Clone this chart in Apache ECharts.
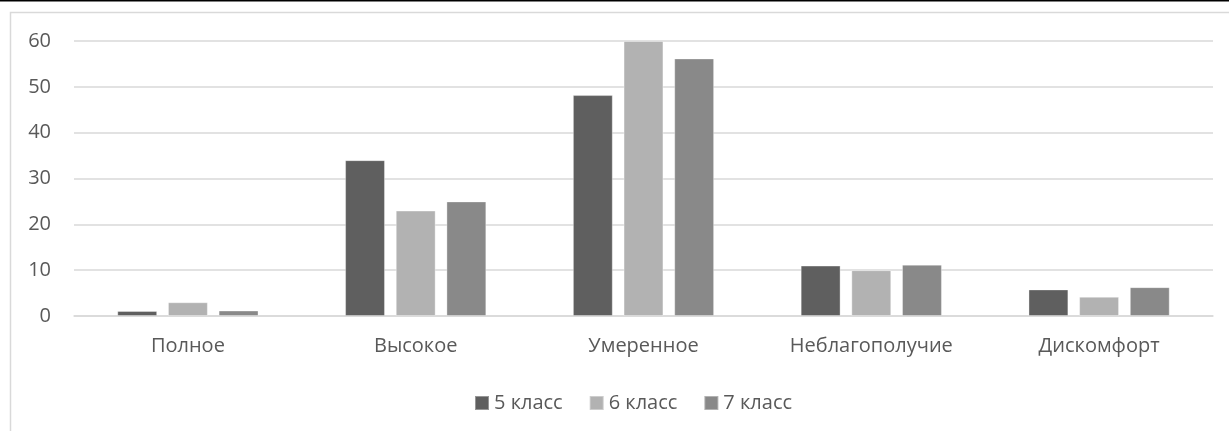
<!DOCTYPE html>
<html>
<head>
<meta charset="utf-8">
<script src="https://cdn.jsdelivr.net/npm/echarts@6/dist/echarts.min.js"></script>
<style>
  html, body { margin: 0; padding: 0; background: #fff; }
  #chart { width: 1229px; height: 431px; }
</style>
</head>
<body>
<div id="chart"></div>
<script>
// Уровни благополучия по классам
const categories = ['Полное', 'Высокое', 'Умеренное', 'Неблагополучие', 'Дискомфорт'];
const seriesNames = ['5 класс', '6 класс', '7 класс'];
const grade5 = [1.1, 34, 48.2, 11, 5.8];
const grade6 = [3, 23, 60, 10, 4.2];
const grade7 = [1.2, 25, 56.2, 11.2, 6.3];
const yTicks = [0, 10, 20, 30, 40, 50, 60];

const colors = ['#5f5f5f', '#b2b2b2', '#898989'];
const font = 'Open Sans, Noto Sans, sans-serif';
const textColor = '#595959';

const chart = echarts.init(document.getElementById('chart'), null, { renderer: 'canvas' });

const values = [grade5, grade6, grade7];
const series = seriesNames.map((name, i) => ({
  name,
  type: 'bar',
  data: values[i],
  barGap: '27%',
  barCategoryGap: '38%',
  itemStyle: { color: colors[i], borderColor: 'rgba(255,255,255,0.35)', borderWidth: 1 },
  emphasis: { disabled: true }
}));

chart.setOption({
  animation: false,
  color: colors,
  graphic: [
    { type: 'rect', shape: { x: 10.5, y: 12.5, width: 1240, height: 440 },
      style: { fill: 'none', stroke: '#d9d9d9', lineWidth: 1.5 }, silent: true },
    { type: 'line', shape: { x1: 0, y1: 0.5, x2: 1229, y2: 0.5 },
      style: { stroke: '#000', lineWidth: 2 }, silent: true }
  ],
  grid: { left: 74, right: 16, top: 41, bottom: 115, containLabel: false },
  legend: {
    data: seriesNames,
    bottom: 13,
    left: 469,
    itemWidth: 14,
    itemHeight: 14,
    itemGap: 26,
    icon: 'rect',
    textStyle: { fontFamily: font, fontSize: 20, color: textColor }
  },
  xAxis: {
    type: 'category',
    data: categories,
    axisLine: { lineStyle: { color: '#d9d9d9', width: 1.5 } },
    axisTick: { show: false },
    axisLabel: { fontFamily: font, fontSize: 20, color: textColor, margin: 20 }
  },
  yAxis: {
    type: 'value',
    min: yTicks[0],
    max: yTicks[yTicks.length - 1],
    interval: 10,
    axisLine: { show: false },
    axisTick: { show: false },
    splitLine: { lineStyle: { color: '#d9d9d9', width: 1.5 } },
    axisLabel: { fontFamily: font, fontSize: 20, color: textColor, margin: 23 }
  },
  series
});
</script>
</body>
</html>
